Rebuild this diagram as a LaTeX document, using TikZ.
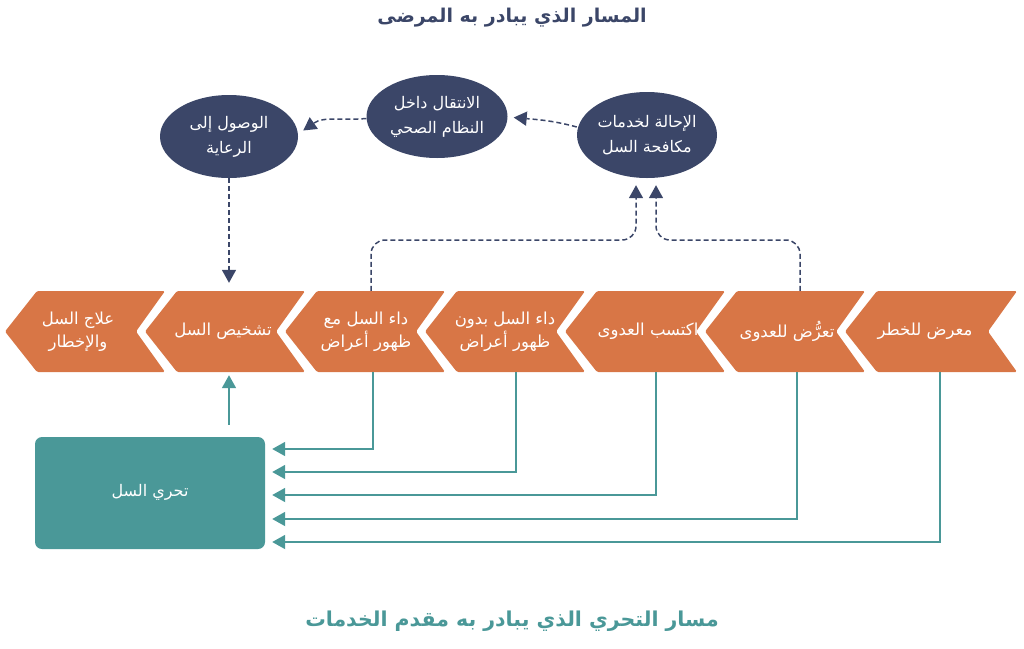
\documentclass[tikz,border=0pt]{standalone}
\usepackage{fontspec}
\newfontfamily\arabicfont[Script=Arabic]{DejaVu Sans}
\TeXXeTstate=1
\usetikzlibrary{arrows.meta,shapes.geometric}
\definecolor{orng}{HTML}{D87646}
\definecolor{navy}{HTML}{3B4668}
\definecolor{tealc}{HTML}{4A9898}
\newcommand{\artxt}[1]{\beginR #1\endR}
\begin{document}
\begin{tikzpicture}[x=1pt,y=-1pt,
  chevtext/.style={text=white,font=\arabicfont\fontsize{16.5}{23}\selectfont,align=center,
    minimum width=110pt,minimum height=81pt,inner sep=0pt},
  ellnode/.style={ellipse,fill=navy,text=white,font=\arabicfont\fontsize{16}{25}\selectfont,
    align=center,inner sep=0pt,minimum width=140pt,minimum height=86pt},
  navydash/.style={navy,line width=1.5pt,dash pattern=on 5pt off 3pt,
    -{Triangle[width=14pt,length=13pt]}},
  tealarrow/.style={tealc,line width=1.8pt,-{Triangle[width=14pt,length=13pt]}},
  titlefont/.style={font=\arabicfont\bfseries\fontsize{19}{22}\selectfont}]
\useasboundingbox (0,0) rectangle (1024,648);
% chevrons
\foreach \x/\w in {37/128,177/128,317/128,457/128,597/128,737/128,877/140}{
  \fill[orng,rounded corners=1.5pt] (\x,291) -- ({\x+\w},291) -- ({\x+\w-29},331.5) -- ({\x+\w},372)
    -- (\x,372) -- ({\x-32},331.5) -- cycle;
}
\node[chevtext] (c1) at (925,331.5) {\artxt{معرض للخطر}};
\node[chevtext] (c2) at (787,331.5) {\artxt{تعرُّض للعدوى}};
\node[chevtext] (c3) at (648,331.5) {\artxt{اكتسب العدوى}};
\node[chevtext] (c4) at (505,331.5) {\artxt{داء السل بدون}\\\artxt{ظهور أعراض}};
\node[chevtext] (c5) at (366,331.5) {\artxt{داء السل مع}\\\artxt{ظهور أعراض}};
\node[chevtext] (c6) at (223,331.5) {\artxt{تشخيص السل}};
\node[chevtext] (c7) at (78,331.5) {\artxt{علاج السل}\\\artxt{والإخطار}};
% ellipses
\node[ellnode] (e1) at (647,135) {\artxt{الإحالة لخدمات}\\\artxt{مكافحة السل}};
\node[ellnode,minimum width=141pt,minimum height=83pt] (e2) at (437,116.5) {\artxt{الانتقال داخل}\\\artxt{النظام الصحي}};
\node[ellnode,minimum width=138pt,minimum height=83pt] (e3) at (229,136.5) {\artxt{الوصول إلى}\\\artxt{الرعاية}};
% box
\node[fill=tealc,rounded corners=7pt,minimum width=230pt,minimum height=112pt,inner sep=0pt,
  text=white,font=\arabicfont\fontsize{16}{19}\selectfont] (box) at (150,493) {\raisebox{6pt}{\artxt{تحري السل}}};
% titles
\node[titlefont,text=navy] (t1) at (512,18) {\artxt{المسار الذي يبادر به المرضى}};
\node[titlefont,text=tealc,font=\arabicfont\bfseries\fontsize{20.5}{24}\selectfont] (t2) at (512,621) {\artxt{مسار التحري الذي يبادر به مقدم الخدمات}};
% dashed navy connectors
\draw[navydash] ([yshift=8pt]e1.west) to[out=165,in=-5] ([xshift=6pt,yshift=-1pt]e2.east);
\draw[navydash] ([yshift=-2pt]e2.west) to[out=185,in=35] ([xshift=5pt,yshift=6pt]e3.east);
\draw[navydash,shorten >=8pt] (e3.south) -- (e3.south |- c6.north);
\draw[navydash,rounded corners=14pt,shorten >=7pt] ([xshift=5pt]c5.north) |- (636,240) -- ([xshift=-11pt]e1.south);
\draw[navydash,rounded corners=14pt,shorten >=7pt] ([xshift=13pt]c2.north) |- (656,240) -- ([xshift=9pt]e1.south);
% teal connectors
\draw[tealarrow,shorten <=12pt,shorten >=3pt] ([xshift=79pt]box.north) -- ([xshift=79pt]box.north |- c6.south);
\draw[tealarrow,shorten >=7pt] ([xshift=7pt]c5.south) |- (box.east |- 0,449);
\draw[tealarrow,shorten >=7pt] ([xshift=11pt]c4.south) |- (box.east |- 0,472);
\draw[tealarrow,shorten >=7pt] ([xshift=8pt]c3.south) |- (box.east |- 0,495);
\draw[tealarrow,shorten >=7pt] ([xshift=10pt]c2.south) |- (box.east |- 0,519);
\draw[tealarrow,shorten >=7pt] ([xshift=15pt]c1.south) |- (box.east |- 0,542);
\end{tikzpicture}
\end{document}
